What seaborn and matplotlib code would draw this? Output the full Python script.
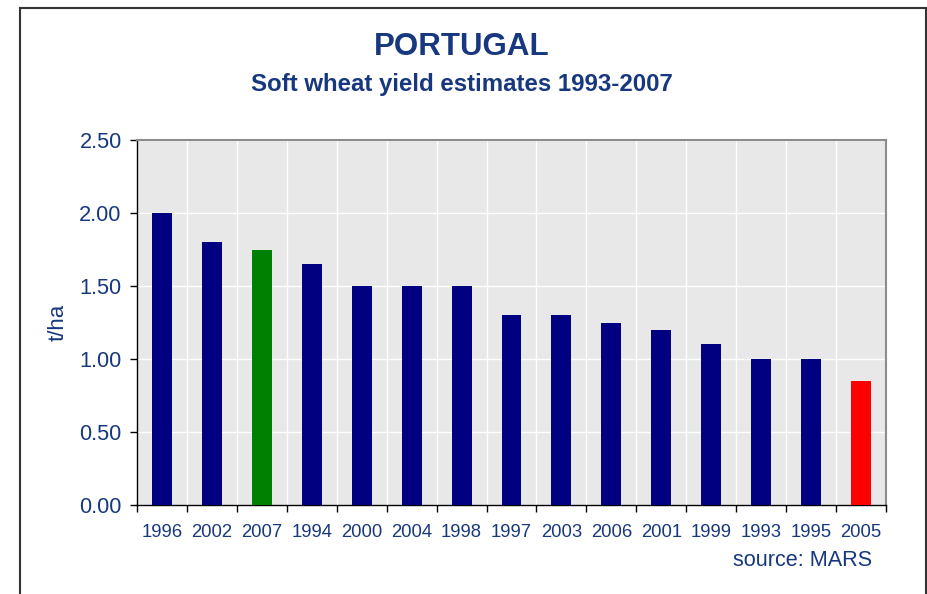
import numpy as np
import pandas as pd
import matplotlib
matplotlib.use("Agg")
import matplotlib.pyplot as plt
import matplotlib.patches as patches
from matplotlib.ticker import FixedLocator
import seaborn as sns

# Values
years = ["1996", "2002", "2007", "1994", "2000", "2004", "1998", "1997",
         "2003", "2006", "2001", "1999", "1993", "1995", "2005"]
yields = [2.00, 1.80, 1.75, 1.65, 1.50, 1.50, 1.50, 1.30,
          1.30, 1.25, 1.20, 1.10, 1.00, 1.00, 0.85]
y_ticks = [0.0, 0.5, 1.0, 1.5, 2.0, 2.5]

navy = "#000080"
txt = "#17387E"
colors = [navy] * len(years)
colors[years.index("2007")] = "#008000"
colors[years.index("2005")] = "#FF0000"

df = pd.DataFrame({"year": years, "yield": yields})

sns.set_style("white")
plt.rcParams["font.family"] = ["Liberation Sans", "DejaVu Sans"]

fig = plt.figure(figsize=(9.28, 5.94), dpi=100)
ax = fig.add_axes([137 / 928, 1 - 505 / 594, (886 - 137) / 928, (505 - 140) / 594])
ax.set_facecolor("#E8E8E8")

sns.barplot(data=df, x="year", y="yield", hue="year", palette=colors,
            legend=False, width=0.4, saturation=1, linewidth=0, ax=ax, zorder=3)

ax.set_xlim(-0.5, len(years) - 0.5)
ax.set_ylim(0, 2.5)
ax.set_yticks(y_ticks)
ax.set_yticklabels([f"{v:.2f}" for v in y_ticks])
ax.xaxis.set_minor_locator(FixedLocator(np.arange(-0.5, len(years), 1.0)))

ax.grid(axis="y", which="major", color="white", linewidth=1.0, zorder=0)
ax.grid(axis="x", which="minor", color="white", linewidth=1.0, zorder=0)
ax.set_axisbelow(True)

ax.tick_params(axis="x", which="major", length=0, pad=14, labelsize=13.3, labelcolor=txt)
ax.tick_params(axis="x", which="minor", length=5, width=1, color="black", direction="out", bottom=True)
ax.tick_params(axis="y", which="major", length=5, width=1, color="black", direction="out",
               left=True, pad=6, labelsize=15.7, labelcolor=txt)

for side in ["left", "bottom"]:
    ax.spines[side].set_color("black")
    ax.spines[side].set_linewidth(1)
for side in ["top", "right"]:
    ax.spines[side].set_color("#8C8C8C")
    ax.spines[side].set_linewidth(1.5)

ax.set_xlabel("")
ax.set_ylabel("t/ha", color=txt, fontsize=16, labelpad=8)

fig.text(0.498, 1 - 47 / 594, "PORTUGAL", ha="center", va="center",
         fontsize=22.5, fontweight="bold", color=txt)
fig.text(0.498, 1 - 84 / 594, "Soft wheat yield estimates 1993-2007", ha="center",
         va="center", fontsize=17.3, fontweight="bold", color=txt)
fig.text(872 / 928, 1 - 560 / 594, "source: MARS", ha="right", va="center",
         fontsize=15.6, color=txt)

frame = patches.Rectangle((20 / 928, -0.02), (926 - 20) / 928, 1.02 - 8 / 594,
                          transform=fig.transFigure, fill=False,
                          edgecolor="#333333", linewidth=1.5, clip_on=False)
fig.patches.append(frame)

fig.savefig("out.png", dpi=100)
